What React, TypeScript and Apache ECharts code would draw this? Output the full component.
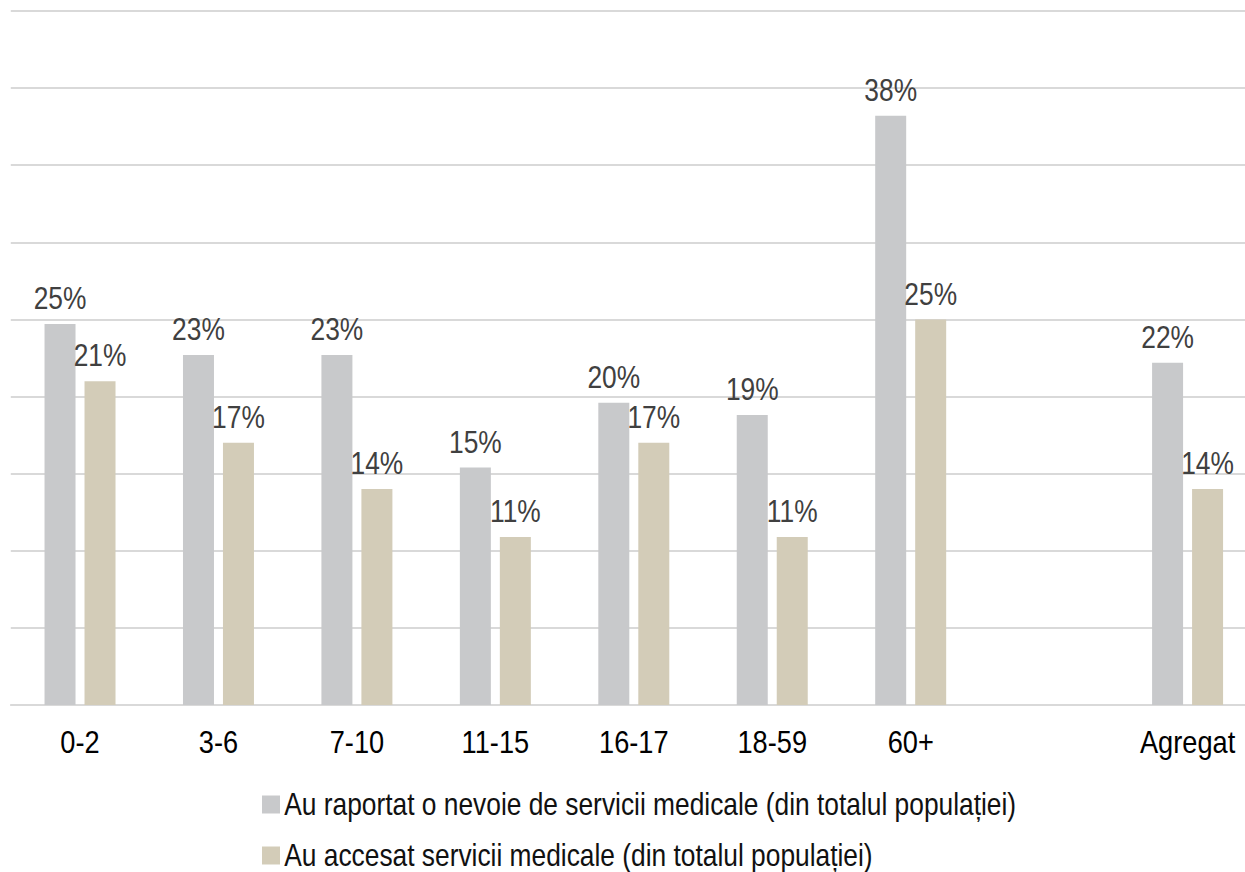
import React, { useEffect, useRef } from "react";
import * as echarts from "echarts";

const categories = ["0-2", "3-6", "7-10", "11-15", "16-17", "18-59", "60+", " ", "Agregat"];
const reportedNeed = [24.7, 22.7, 22.7, 15.4, 19.6, 18.8, 38.2, null, 22.2];
const accessed = [21.0, 17.0, 14.0, 10.9, 17.0, 10.9, 25.0, null, 14.0];
const seriesNames = [
  "Au raportat o nevoie de servicii medicale (din totalul populației)",
  "Au accesat servicii medicale (din totalul populației)",
];

const FONT = "'Liberation Sans', Arial, sans-serif";
const SX = 0.85; // horizontal condensation of the whole drawing

export default function App() {
  const ref = useRef<HTMLDivElement>(null);
  useEffect(() => {
    if (!ref.current) return;
    const chart = echarts.init(ref.current, undefined, { renderer: "svg" });
    const label = {
      show: true,
      position: "top",
      distance: 10,
      color: "#404040",
      fontSize: 31,
      fontFamily: FONT,
      formatter: (p: any) => (p.value == null ? "" : Math.round(p.value) + "%"),
    };
    const legendBase = {
      orient: "horizontal",
      left: 262 / SX,
      itemWidth: 18 / SX,
      itemHeight: 18,
      itemGap: 6 / SX,
      icon: "rect",
      selectedMode: false,
      padding: 0,
      textStyle: { fontSize: 31, lineHeight: 31, color: "#111", fontFamily: FONT, padding: [0, 0, 0, 0] },
    };
    chart.setOption({
      animation: false,
      textStyle: { fontFamily: FONT },
      grid: { left: 10.8 / SX, width: 1246 / SX, top: 11, bottom: 167, containLabel: false },
      legend: [
        { ...legendBase, top: 789, data: [seriesNames[0]] },
        { ...legendBase, top: 840, data: [seriesNames[1]] },
      ],
      xAxis: {
        type: "category",
        data: categories,
        axisLine: { show: true, lineStyle: { color: "#D9D9D9", width: 2 } },
        axisTick: { show: false },
        axisLabel: { color: "#000", fontSize: 32, fontFamily: FONT, margin: 21, interval: 0 },
      },
      yAxis: {
        type: "value",
        min: 0,
        max: 45,
        interval: 5,
        axisLabel: { show: false },
        axisLine: { show: false },
        axisTick: { show: false },
        splitLine: { lineStyle: { color: "#D9D9D9", width: 2 } },
      },
      series: [
        {
          name: seriesNames[0],
          type: "bar",
          data: reportedNeed,
          barWidth: 31 / SX,
          barGap: "29%",
          itemStyle: { color: "#C8C9CB" },
          label,
        },
        {
          name: seriesNames[1],
          type: "bar",
          data: accessed,
          barWidth: 31 / SX,
          barGap: "29%",
          itemStyle: { color: "#D3CCB8" },
          label,
        },
      ],
    });
    return () => chart.dispose();
  }, []);
  return (
    <div style={{ position: "fixed", left: 0, top: 0, width: 1245, height: 872, overflow: "hidden", background: "#fff" }}>
      <div
        ref={ref}
        style={{ width: 1485, height: 872, transform: `scaleX(${SX})`, transformOrigin: "left top" }}
      />
    </div>
  );
}
